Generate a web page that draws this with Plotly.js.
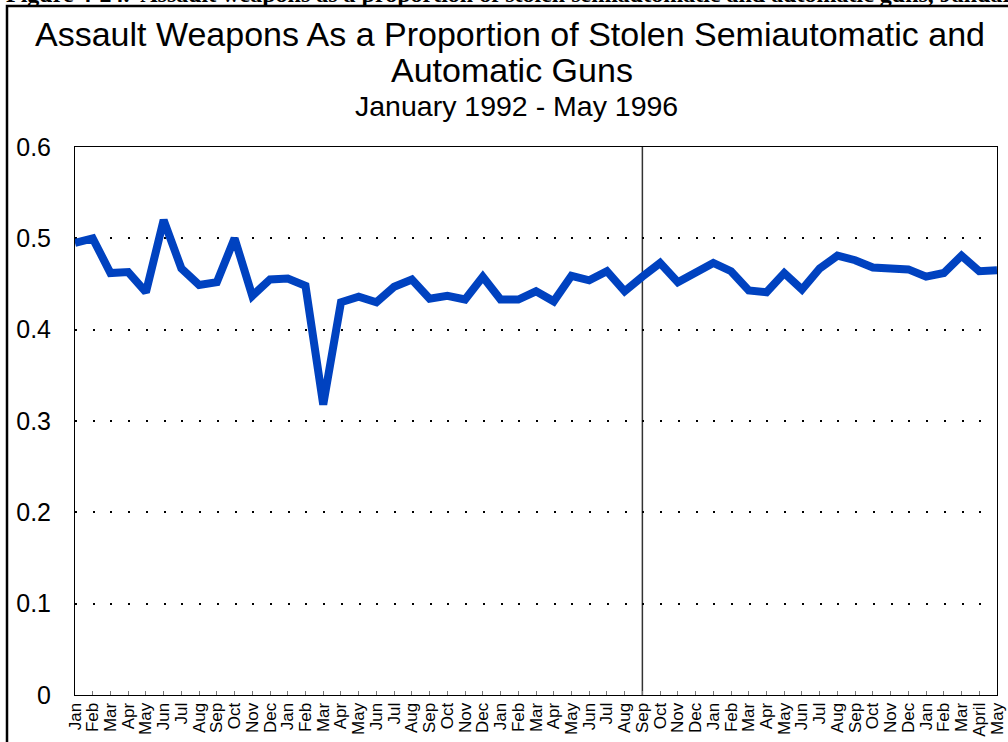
<!DOCTYPE html>
<html>
<head>
<meta charset="utf-8">
<script src="https://cdn.plot.ly/plotly-3.0.1.min.js"></script>
<style>
  html, body { margin: 0; padding: 0; background: #ffffff; }
  #chart { width: 1008px; height: 742px; }
</style>
</head>
<body>
<div id="chart"></div>
<script>
// ---- Data ----
const monthLabels = [
  'Jan','Feb','Mar','Apr','May','Jun','Jul','Aug','Sep','Oct','Nov','Dec',
  'Jan','Feb','Mar','Apr','May','Jun','Jul','Aug','Sep','Oct','Nov','Dec',
  'Jan','Feb','Mar','Apr','May','Jun','Jul','Aug','Sep','Oct','Nov','Dec',
  'Jan','Feb','Mar','Apr','May','Jun','Jul','Aug','Sep','Oct','Nov','Dec',
  'Jan','Feb','Mar','April','May'
];
const monthYears = [
  1992,1992,1992,1992,1992,1992,1992,1992,1992,1992,1992,1992,
  1993,1993,1993,1993,1993,1993,1993,1993,1993,1993,1993,1993,
  1994,1994,1994,1994,1994,1994,1994,1994,1994,1994,1994,1994,
  1995,1995,1995,1995,1995,1995,1995,1995,1995,1995,1995,1995,
  1996,1996,1996,1996,1996
];
const assaultShare = [
  0.495,0.500,0.462,0.463,0.441,0.520,0.467,0.449,0.452,0.500,0.437,0.455,
  0.456,0.448,0.318,0.430,0.436,0.430,0.447,0.455,0.434,0.437,0.433,0.458,
  0.433,0.433,0.442,0.431,0.459,0.454,0.464,0.442,0.458,0.473,0.452,0.462,
  0.473,0.464,0.443,0.441,0.462,0.444,0.467,0.481,0.476,0.468,0.466,0.466,
  0.458,0.462,0.481,0.464,0.465
];
const yTickValues = [0, 0.1, 0.2, 0.3, 0.4, 0.5, 0.6];
const dividerMonth = { label: 'Sep', year: 1994 };

const titleLine1 = 'Assault Weapons As a Proportion of Stolen Semiautomatic and';
const titleLine2 = 'Automatic Guns';
const subtitle = 'January 1992 - May 1996';
const headerText = 'Figure 4-24.  Assault weapons as a proportion of stolen semiautomatic and automatic guns, January 1992 - May 1996';

// ---- Build ----
const xIdx = monthLabels.map((_, i) => i);
const dividerIdx = monthLabels.findIndex((m, i) => m === dividerMonth.label && monthYears[i] === dividerMonth.year);

const W = 1008, H = 742;
const M = { l: 75, r: 11, t: 147, b: 47 };
const pw = W - M.l - M.r, ph = H - M.t - M.b;
const px2x = px => (px - M.l) / pw;
const py2y = py => (H - M.b - py) / ph;
const catStep = pw / (xIdx.length - 1);

const FONT = 'Liberation Sans, Arial, sans-serif';

const trace = {
  type: 'scatter',
  mode: 'lines',
  x: xIdx,
  y: assaultShare,
  line: { color: '#0042C0', width: 8, shape: 'linear' },
  hoverinfo: 'skip',
  showlegend: false
};

const layout = {
  width: W, height: H,
  margin: M,
  paper_bgcolor: '#ffffff',
  plot_bgcolor: '#ffffff',
  font: { family: FONT, color: '#000000' },
  showlegend: false,
  xaxis: {
    range: [0, xIdx.length - 1],
    tickmode: 'array',
    tickvals: xIdx,
    ticktext: monthLabels,
    tickangle: -90,
    tickfont: { family: FONT, size: 17, color: '#000' },
    ticks: 'inside', ticklen: 4, tickcolor: '#777', tickwidth: 1,
    showgrid: false, zeroline: false,
    showline: true, linecolor: '#000', linewidth: 1, mirror: true,
    fixedrange: true
  },
  yaxis: {
    range: [0, 0.6],
    tickmode: 'array',
    tickvals: yTickValues,
    ticktext: yTickValues.map(v => String(v)),
    tickfont: { family: FONT, size: 25, color: '#000' },
    ticks: '',
    ticklabelstandoff: 18,
    showgrid: true, gridcolor: '#000', gridwidth: 1.8,
    griddash: '2px,' + (catStep - 2).toFixed(2) + 'px',
    zeroline: false,
    showline: true, linecolor: '#000', linewidth: 1, mirror: true,
    fixedrange: true
  },
  shapes: [
    {
      type: 'line', xref: 'x', yref: 'paper',
      x0: dividerIdx, x1: dividerIdx, y0: 0, y1: 1,
      line: { color: '#333', width: 1.5 }, layer: 'below'
    },
    {
      type: 'rect', xref: 'paper', yref: 'paper',
      x0: px2x(7), x1: px2x(1030), y0: py2y(780), y1: py2y(6),
      line: { color: '#000', width: 2.5 }, fillcolor: 'rgba(0,0,0,0)'
    }
  ],
  annotations: [
    {
      text: '<b>' + headerText + '</b>', xref: 'paper', yref: 'paper',
      x: px2x(4), xanchor: 'left', y: py2y(9), yanchor: 'bottom',
      showarrow: false, font: { family: 'Liberation Serif, Times New Roman, serif', size: 24, color: '#000' }
    },
    {
      text: titleLine1, xref: 'paper', yref: 'paper',
      x: px2x(510), xanchor: 'center', y: py2y(34), yanchor: 'middle',
      showarrow: false, font: { family: FONT, size: 34, color: '#000' }
    },
    {
      text: titleLine2, xref: 'paper', yref: 'paper',
      x: px2x(512), xanchor: 'center', y: py2y(70), yanchor: 'middle',
      showarrow: false, font: { family: FONT, size: 34, color: '#000' }
    },
    {
      text: subtitle, xref: 'paper', yref: 'paper',
      x: px2x(516), xanchor: 'center', y: py2y(106), yanchor: 'middle',
      showarrow: false, font: { family: FONT, size: 28.5, color: '#000' }
    }
  ]
};

Plotly.newPlot('chart', [trace], layout, { displayModeBar: false, staticPlot: true });
</script>
</body>
</html>
